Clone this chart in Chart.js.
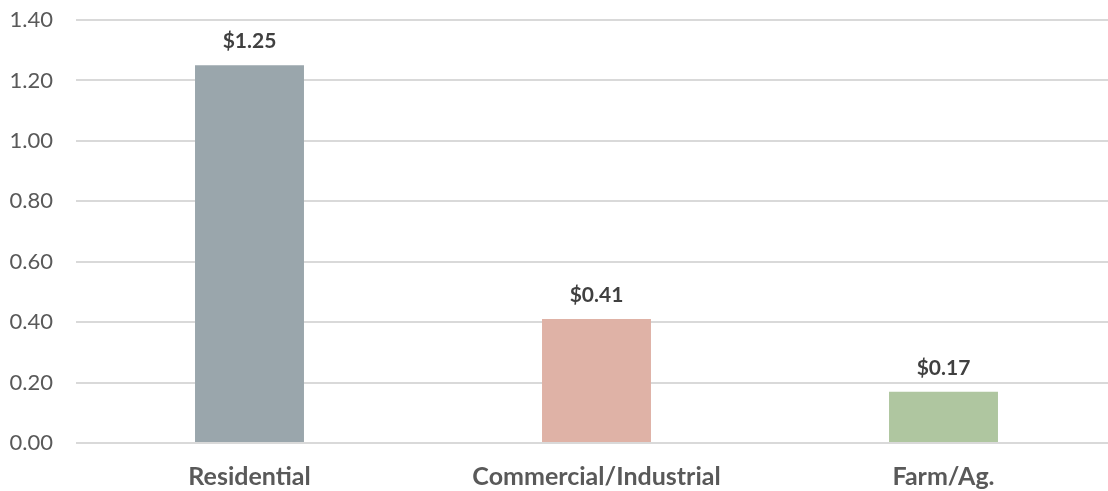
<!DOCTYPE html>
<html>
<head>
<meta charset="utf-8">
<script src="https://cdn.jsdelivr.net/npm/chart.js@4"></script>
<style>
  html, body { margin: 0; padding: 0; background: #fff; overflow: hidden; }
  .wrap { width: 1120px; height: 491px; position: relative; }
</style>
</head>
<body>
<div class="wrap"><canvas id="chart"></canvas></div>
<script>
const categories = ['Residential', 'Commercial/Industrial', 'Farm/Ag.'];
const costPerDollar = [1.25, 0.41, 0.17];
const barColors = ['#9AA6AC', '#DFB2A6', '#AFC6A0'];

// writes the dollar value above each bar
const valueLabels = {
  id: 'valueLabels',
  afterDatasetsDraw(chart) {
    const ctx = chart.ctx;
    const meta = chart.getDatasetMeta(0);
    ctx.save();
    ctx.font = 'bold 21px Lato';
    ctx.fillStyle = '#404040';
    ctx.textAlign = 'center';
    ctx.textBaseline = 'alphabetic';
    meta.data.forEach((bar, i) => {
      ctx.fillText('$' + costPerDollar[i].toFixed(2), bar.x, bar.y - 17);
    });
    ctx.restore();
  }
};

new Chart(document.getElementById('chart'), {
  type: 'bar',
  data: {
    labels: categories,
    datasets: [{
      data: costPerDollar,
      backgroundColor: barColors,
      categoryPercentage: 1,
      barPercentage: 0.314
    }]
  },
  options: {
    responsive: true,
    maintainAspectRatio: false,
    animation: false,
    layout: { padding: { top: 20, left: 0, right: 3, bottom: 0 } },
    plugins: {
      legend: { display: false },
      tooltip: { enabled: false }
    },
    scales: {
      x: {
        grid: { display: false },
        border: { display: false },
        ticks: {
          color: '#595959',
          font: { family: 'Lato', size: 25, weight: 'bold' },
          padding: 11
        },
        // fixed axis height, no extra edge padding for wide labels
        afterFit(scale) {
          scale.height = 48;
          scale.paddingLeft = 0;
          scale.paddingRight = 0;
        }
      },
      y: {
        min: 0,
        max: 1.4,
        grid: { color: '#D9D9D9', lineWidth: 2, drawTicks: false },
        border: { display: false },
        ticks: {
          stepSize: 0.2,
          color: '#595959',
          font: { family: 'Lato', size: 22 },
          padding: 23,
          callback: v => v.toFixed(2)
        },
        afterFit(scale) {
          scale.width = 76;
          scale.paddingTop = 0;
          scale.paddingBottom = 0;
        }
      }
    }
  },
  plugins: [valueLabels]
});
</script>
</body>
</html>
